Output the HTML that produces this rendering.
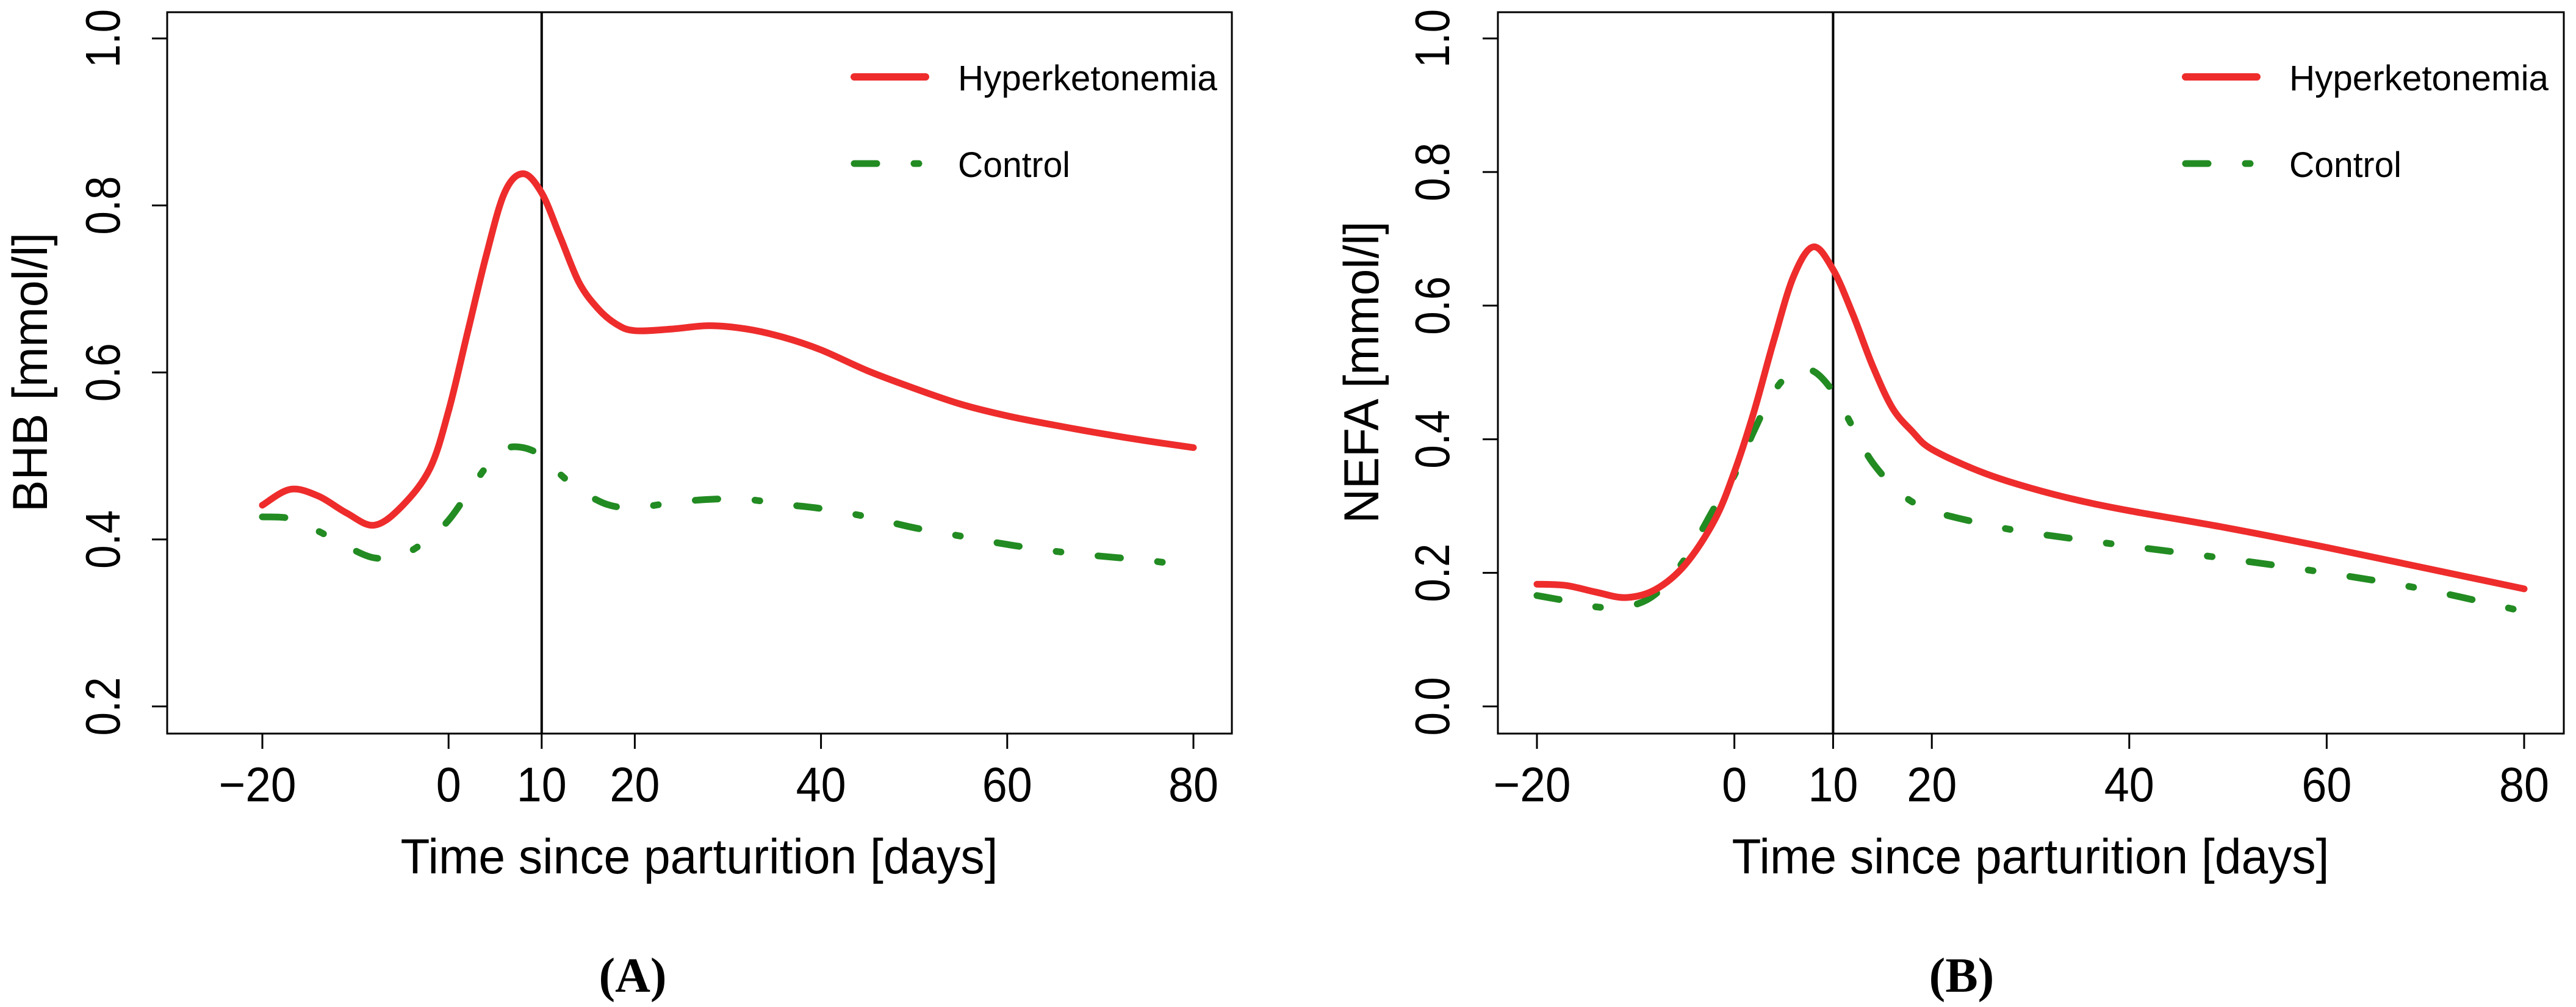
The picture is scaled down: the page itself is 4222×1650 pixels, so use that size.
<!DOCTYPE html>
<html><head><meta charset="utf-8"><style>
html,body{margin:0;padding:0;background:#fff;}
svg{display:block;font-family:"Liberation Sans",Arial,sans-serif;}
</style></head><body>
<svg id="fig" width="4222" height="1650" viewBox="0 0 4222 1650" xmlns="http://www.w3.org/2000/svg"></svg>
<script>
// ---- Data ----
const daysA = [-20,-17,-14,-11,-8,-5,-2,0,2,4,6,8,10,12,14,16,18,20,24,28,32,36,40,45,50,55,60,65,70,75,80];
const hyperA = [0.441,0.460,0.452,0.432,0.417,0.440,0.485,0.554,0.646,0.738,0.815,0.838,0.815,0.762,0.708,0.677,0.658,0.650,0.652,0.656,0.652,0.642,0.627,0.602,0.581,0.562,0.548,0.537,0.527,0.518,0.510];
const daysAc = [-20,-17,-14,-11,-8,-5,-2,0,2,4,6,8,10,12,14,17,20,24,28,32,36,40,45,50,55,60,65,70,75,79];
const controlA = [0.427,0.425,0.410,0.392,0.378,0.381,0.402,0.423,0.454,0.486,0.508,0.510,0.500,0.478,0.460,0.442,0.438,0.444,0.448,0.448,0.442,0.437,0.427,0.414,0.404,0.394,0.386,0.380,0.375,0.369];
const daysB = [-20,-17,-14,-11,-8,-5,-2,0,2,4,6,8,10,12,14,16,18,20,25,30,35,40,50,60,70,80];
const hyperB = [0.183,0.181,0.171,0.163,0.175,0.212,0.279,0.351,0.442,0.548,0.644,0.688,0.654,0.587,0.510,0.447,0.412,0.385,0.351,0.327,0.308,0.293,0.267,0.238,0.207,0.176];
const daysBc = [-20,-17,-14,-11,-8,-5,-2,0,2,4,6,8,10,12,14,17,20,25,30,40,50,60,70,80];
const controlB = [0.166,0.158,0.149,0.149,0.168,0.221,0.298,0.346,0.413,0.471,0.502,0.502,0.471,0.418,0.365,0.317,0.293,0.274,0.260,0.240,0.221,0.200,0.175,0.142];
const xTicks = [-20,0,10,20,40,60,80];
const xTickLabels = ["\u221220","0","10","20","40","60","80"];
const yTicksA = [0.2,0.4,0.6,0.8,1.0];
const yTickLabelsA = ["0.2","0.4","0.6","0.8","1.0"];
const yTicksB = [0.0,0.2,0.4,0.6,0.8,1.0];
const yTickLabelsB = ["0.0","0.2","0.4","0.6","0.8","1.0"];

const NS="http://www.w3.org/2000/svg";
const svg=document.getElementById('fig');
function mk(tag,attrs,parent){const e=document.createElementNS(NS,tag);for(const k in attrs)e.setAttribute(k,attrs[k]);(parent||svg).appendChild(e);return e;}

function smoothPath(pts){
  let d="M"+pts[0][0].toFixed(1)+","+pts[0][1].toFixed(1);
  for(let i=0;i<pts.length-1;i++){
    const p0=pts[Math.max(0,i-1)],p1=pts[i],p2=pts[i+1],p3=pts[Math.min(pts.length-1,i+2)];
    const c1x=p1[0]+(p2[0]-p0[0])/6,c1y=p1[1]+(p2[1]-p0[1])/6;
    const c2x=p2[0]-(p3[0]-p1[0])/6,c2y=p2[1]-(p3[1]-p1[1])/6;
    d+=" C"+c1x.toFixed(1)+","+c1y.toFixed(1)+" "+c2x.toFixed(1)+","+c2y.toFixed(1)+" "+p2[0].toFixed(1)+","+p2[1].toFixed(1);
  }
  return d;
}

function panel(cfg){
  const g=mk('g',{});
  
  
  const X=d=>cfg.x0+(d-(-20))*(cfg.x1-cfg.x0)/100;
  const Y=v=>cfg.yTop+(cfg.vTop-v)*(cfg.yBot-cfg.yTop)/(cfg.vTop-cfg.vBot);
  const box=mk('rect',{x:cfg.left,y:20,width:cfg.right-cfg.left,height:1202-20,fill:'none',stroke:'#000','stroke-width':3},g);
  
  
  // x ticks
  xTicks.forEach((t,i)=>{
    const tk=mk('line',{x1:X(t),x2:X(t),y1:1202,y2:1227,stroke:'#000','stroke-width':3},g);
    
    
    const lab=xTickLabels[i];
    const w=lab.length===1?41:(lab.length===2?82:127);
    const tx=mk('text',{x:X(t)-(lab.length===3?8:0),y:1313,'font-size':80,'text-anchor':'middle',textLength:w,lengthAdjust:'spacingAndGlyphs'},g);
    tx.textContent=lab;
    
    
  });
  // y ticks
  cfg.yTicks.forEach((t,i)=>{
    const tk=mk('line',{x1:cfg.left-25,x2:cfg.left,y1:Y(t),y2:Y(t),stroke:'#000','stroke-width':3},g);
    
    
    const bx=cfg.yLabX,by=Y(t);
    const tx=mk('text',{x:0,y:0,'font-size':80,'text-anchor':'middle',textLength:96,lengthAdjust:'spacingAndGlyphs',transform:`translate(${bx},${by}) rotate(-90)`},g);
    tx.textContent=cfg.yLabels[i];
    
    
  });
  // y title
  const yt=mk('text',{x:0,y:0,'font-size':81,'text-anchor':'middle',textLength:cfg.yTitleLen,lengthAdjust:'spacingAndGlyphs',transform:`translate(${cfg.yTitleX},610) rotate(-90)`},g);
  yt.textContent=cfg.yTitle;
  
  
  // x title
  const xt=mk('text',{x:cfg.xTitleX,y:1431,'font-size':81,'text-anchor':'middle',textLength:979,lengthAdjust:'spacingAndGlyphs'},g);
  xt.textContent="Time since parturition [days]";
  
  
  // vertical line at day 10
  const vl=mk('line',{x1:X(10),x2:X(10),y1:20,y2:1202,stroke:'#000','stroke-width':4},g);
  
  
  // series
  const ctrl=mk('path',{d:smoothPath(cfg.cd.map((d,i)=>[X(d),Y(cfg.cv[i])])),fill:'none',stroke:'#228B22','stroke-width':11,'stroke-dasharray':'37 61 8 61','stroke-linecap':'round','stroke-linejoin':'round'},g);
  
  
  const hyp=mk('path',{d:smoothPath(cfg.hd.map((d,i)=>[X(d),Y(cfg.hv[i])])),fill:'none',stroke:'#EE2C2C','stroke-width':11,'stroke-linecap':'round','stroke-linejoin':'round'},g);
  
  
  // legend
  const lg=mk('g',{},g);
  
  
  const l1=mk('line',{x1:cfg.legX,x2:cfg.legX+117,y1:126,y2:126,stroke:'#EE2C2C','stroke-width':12,'stroke-linecap':'round'},lg);
  
  
  const t1=mk('text',{x:cfg.legX+170,y:148,'font-size':58,textLength:425,lengthAdjust:'spacingAndGlyphs'},lg);
  t1.textContent="Hyperketonemia";
  
  
  const l2=mk('line',{x1:cfg.legX,x2:cfg.legX+117,y1:268,y2:268,stroke:'#228B22','stroke-width':11,'stroke-linecap':'round','stroke-dasharray':'37 61 8 61'},lg);
  
  
  const t2=mk('text',{x:cfg.legX+170,y:290,'font-size':58,textLength:184,lengthAdjust:'spacingAndGlyphs'},lg);
  t2.textContent="Control";
  
  
  // panel label
  const pl=mk('text',{x:cfg.plX,y:1625,'font-size':80,'font-weight':'bold','text-anchor':'middle','font-family':'"Liberation Serif",serif'},g);
  pl.textContent=cfg.pLabel;
  
  
}

panel({name:'panel-a-bhb',left:274,right:2019,x0:430,x1:1956,yTop:63,yBot:1157.5,vTop:1.0,vBot:0.2,
  yTicks:yTicksA,yLabels:yTickLabelsA,yLabX:196,yTitleX:77,yTitle:"BHB [mmol/l]",yTitleLen:458,
  xTitleX:1146,hd:daysA,hv:hyperA,cd:daysAc,cv:controlA,legX:1400,plX:1037,pLabel:"(A)"});
panel({name:'panel-b-nefa',left:2455,right:4202,x0:2519,x1:4137,yTop:63,yBot:1157.5,vTop:1.0,vBot:0.0,
  yTicks:yTicksB,yLabels:yTickLabelsB,yLabX:2375,yTitleX:2259,yTitle:"NEFA [mmol/l]",yTitleLen:495,
  xTitleX:3328,hd:daysB,hv:hyperB,cd:daysBc,cv:controlB,legX:3582,plX:3215,pLabel:"(B)"});
</script>
</body></html>
